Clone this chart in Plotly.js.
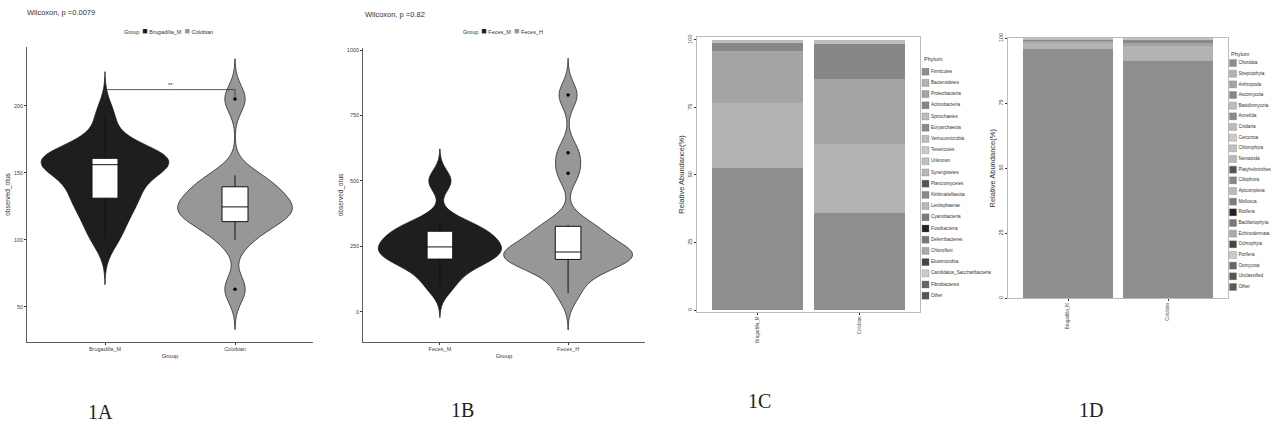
<!DOCTYPE html>
<html><head><meta charset="utf-8">
<script src="https://cdn.plot.ly/plotly-3.0.1.min.js"></script>
<style>html,body{margin:0;padding:0;background:#fff;overflow:hidden}#chart{width:1279px;height:432px}</style>
</head><body><div id="chart"></div>
<script>
// ---------- Panel 1A data ----------
const groupsA = ['Brugadilla_M', 'Colobian'];
const otusA_brugadilla = [100, 112, 122, 130, 134, 140, 150, 156, 157, 159, 160, 161, 162, 170, 192];
const otusA_colobian = [63, 100, 112, 115, 120, 124, 125, 130, 138, 141, 148, 205];
const titleA = 'Wilcoxon, p =0.0079';
const sigLabelA = '**';
const yTicksA = [50, 100, 150, 200];

// ---------- Panel 1B data ----------
const groupsB = ['Feces_M', 'Feces_H'];
const otusB_m = [100, 160, 195, 207, 225, 240, 255, 275, 300, 315, 340, 500];
const otusB_h = [71, 140, 180, 198, 205, 215, 224, 228, 245, 290, 312, 331, 529, 608, 828];
const titleB = 'Wilcoxon, p =0.82';
const yTicksB = [0, 250, 500, 750, 1000];

// ---------- Panel 1C data ----------
const samplesC = ['Brugadilla_M', 'Colobian'];
const phylaC = ['Firmicutes', 'Bacteroidetes', 'Proteobacteria', 'Actinobacteria', 'Spirochaetes',
  'Euryarchaeota', 'Verrucomicrobia', 'Tenericutes', 'Unknown', 'Synergistetes', 'Planctomycetes',
  'Kiritimatiellaeota', 'Lentisphaerae', 'Cyanobacteria', 'Fusobacteria', 'Deferribacteres',
  'Chloroflexi', 'Elusimicrobia', 'Candidatus_Saccharibacteria', 'Fibrobacteres', 'Other'];
const abundC_brugadilla = [52.5, 24.0, 19.4, 3.1, 0.2, 0.15, 0.12, 0.1, 0.08, 0.06, 0.05, 0.04, 0.04, 0.03, 0.03, 0.02, 0.02, 0.02, 0.01, 0.01, 0.02];
const abundC_colobian = [35.8, 25.7, 24.0, 13.0, 0.3, 0.25, 0.2, 0.15, 0.12, 0.1, 0.08, 0.06, 0.05, 0.04, 0.04, 0.03, 0.02, 0.02, 0.01, 0.01, 0.02];

// ---------- Panel 1D data ----------
const samplesD = ['Brugadilla_M', 'Colobian'];
const phylaD = ['Chordata', 'Streptophyta', 'Arthropoda', 'Ascomycota', 'Basidiomycota', 'Annelida',
  'Cnidaria', 'Cercozoa', 'Chlorophyta', 'Nematoda', 'Platyhelminthes', 'Ciliophora', 'Apicomplexa',
  'Mollusca', 'Rotifera', 'Bacillariophyta', 'Echinodermata', 'Ochrophyta', 'Porifera', 'Oomycota',
  'Unclassified', 'Other'];
const abundD_brugadilla = [95.9, 2.3, 0.6, 0.4, 0.15, 0.1, 0.1, 0.08, 0.06, 0.05, 0.04, 0.04, 0.03, 0.03, 0.02, 0.02, 0.02, 0.02, 0.01, 0.01, 0.01, 0.01];
const abundD_colobian = [91.4, 5.6, 1.3, 0.5, 0.25, 0.18, 0.14, 0.12, 0.1, 0.08, 0.06, 0.05, 0.04, 0.04, 0.03, 0.03, 0.02, 0.02, 0.01, 0.01, 0.01, 0.01];

const panelLabels = ['1A', '1B', '1C', '1D'];

// ---------- styles ----------
const darkFill = '#1e1e1e', greyFill = '#979797';
const palette = ['#8e8e8e', '#b3b3b3', '#a4a4a4', '#878787', '#bdbdbd', '#8a8a8a', '#bcbcbc', '#cacaca',
  '#c0c0c0', '#b8b8b8', '#555555', '#888888', '#bababa', '#7d7d7d', '#222222', '#777777', '#aaaaaa',
  '#444444', '#cccccc', '#666666', '#555555', '#5a5a5a'];
const FONT = 'Liberation Sans, Arial, sans-serif';

function quantile(s, p) { const h = (s.length - 1) * p, lo = Math.floor(h); const hi = Math.min(lo + 1, s.length - 1); return s[lo] + (h - lo) * (s[hi] - s[lo]); }
function nrd0(vals) {
  const s = [...vals].sort((a, b) => a - b), n = s.length;
  const mean = s.reduce((a, b) => a + b, 0) / n;
  const sd = Math.sqrt(s.reduce((a, b) => a + (b - mean) ** 2, 0) / (n - 1));
  const iqr = quantile(s, 0.75) - quantile(s, 0.25);
  return 0.9 * Math.min(sd, iqr / 1.34) * Math.pow(n, -0.2);
}
function violin(vals, cat, xa, ya, fill, width, ptColor) {
  const bw = nrd0(vals), mn = Math.min(...vals), mx = Math.max(...vals);
  return {type: 'violin', x: vals.map(() => cat), y: vals, xaxis: xa, yaxis: ya,
    bandwidth: bw, spanmode: 'manual', span: [mn - 3 * bw, mx + 3 * bw], width: width,
    fillcolor: fill, line: {color: '#151515', width: 0.7},
    box: {visible: true, width: 0.2 / width, fillcolor: '#ffffff', line: {color: '#111', width: 1}},
    meanline: {visible: false}, points: 'outliers', pointpos: 0, jitter: 0,
    marker: {color: ptColor, size: 3.5, line: {width: 0}}, hoverinfo: 'skip', showlegend: false};
}
function stackBars(names, a, b, cats, xa, ya) {
  return names.map((nm, i) => ({type: 'bar', name: nm, x: cats, y: [a[i], b[i]], xaxis: xa, yaxis: ya,
    marker: {color: palette[i], line: {width: 0}}, hoverinfo: 'skip', showlegend: false}));
}
function keyTrace(names, xa, ya) {
  return {type: 'scatter', mode: 'markers+text', x: names.map(() => 0), y: names.map((_, i) => i),
    text: names, textposition: 'middle right', textfont: {size: 4.6, color: '#333', family: FONT},
    marker: {symbol: 'square', size: 7, color: names.map((_, i) => palette[i]), line: {width: 0.3, color: '#666'}},
    xaxis: xa, yaxis: ya, hoverinfo: 'skip', showlegend: false, cliponaxis: false};
}

const traces = [
  violin(otusA_brugadilla, groupsA[0], 'x', 'y', darkFill, 0.98, darkFill),
  violin(otusA_colobian, groupsA[1], 'x', 'y', greyFill, 0.88, '#000'),
  violin(otusB_m, groupsB[0], 'x2', 'y2', darkFill, 0.96, darkFill),
  violin(otusB_h, groupsB[1], 'x2', 'y2', greyFill, 1.0, '#000'),
  ...stackBars(phylaC, abundC_brugadilla, abundC_colobian, samplesC, 'x3', 'y3'),
  ...stackBars(phylaD, abundD_brugadilla, abundD_colobian, samplesD, 'x4', 'y4'),
  keyTrace(phylaC, 'x5', 'y5'),
  keyTrace(phylaD, 'x6', 'y6')
];

const W = 1279, H = 432;
const px = v => v / W, py = v => 1 - v / H;

const tickF = {size: 5.5, color: '#444', family: FONT};
function catAxis(dom, cats, title, extra) {
  return Object.assign({domain: dom, type: 'category', categoryarray: cats, range: [-0.6, 1.6],
    showline: true, linecolor: '#333', linewidth: 0.8, ticks: 'outside', ticklen: 2, tickcolor: '#333',
    tickfont: tickF, showgrid: false, zeroline: false, fixedrange: true,
    title: {text: title, font: {size: 6, color: '#333', family: FONT}, standoff: 2}}, extra || {});
}
function valAxis(dom, range, tv, title, extra) {
  return Object.assign({domain: dom, range: range, tickvals: tv, showline: true, linecolor: '#333', linewidth: 0.8,
    ticks: 'outside', ticklen: 2, tickcolor: '#333', tickfont: tickF, showgrid: false, zeroline: false,
    title: {text: title, font: {size: 6.5, color: '#333', family: FONT}, standoff: 2}}, extra || {});
}

// significance bracket derived from panel 1A data
const allA = otusA_brugadilla.concat(otusA_colobian);
const sigY = Math.max(...allA) + 7;
const tip = 0.03 * (243.8 - 23.7);

function legendText(cats, fills) {
  return 'Group  ' + cats.map((c, i) => '<span style="color:' + fills[i] + ';font-size:9px">■</span> ' + c).join('  ');
}

const layout = {
  width: W, height: H, margin: {l: 0, r: 0, t: 0, b: 0}, paper_bgcolor: '#fff', plot_bgcolor: 'rgba(0,0,0,0)',
  showlegend: false, violinmode: 'overlay', barmode: 'stack', bargap: 0.1,
  font: {family: FONT, color: '#333'},
  xaxis: catAxis([px(27), px(313)], groupsA, 'Group', {anchor: 'y'}),
  yaxis: valAxis([py(342), py(47)], [23.7, 243.8], yTicksA, 'observed_otus', {anchor: 'x'}),
  xaxis2: catAxis([px(363), px(645)], groupsB, 'Group', {anchor: 'y2'}),
  yaxis2: valAxis([py(342), py(48)], [-116, 1008], yTicksB, 'observed_otus', {anchor: 'x2'}),
  xaxis3: catAxis([px(697), px(920)], samplesC, '', {anchor: 'y3', tickangle: -90, tickfont: {size: 4.5, color: '#555', family: FONT}, linecolor: '#aaa', mirror: true}),
  yaxis3: valAxis([py(312), py(37)], [-0.74, 101.1], [0, 25, 50, 75, 100], 'Relative Abundance(%)', {anchor: 'x3', tickangle: -90, linecolor: '#aaa', mirror: true, title: {text: 'Relative Abundance(%)', font: {size: 7.5, color: '#333', family: FONT}, standoff: 1}}),
  xaxis4: catAxis([px(1008), px(1228)], samplesD, '', {anchor: 'y4', tickangle: -90, tickfont: {size: 4.5, color: '#555', family: FONT}, linecolor: '#aaa', mirror: true}),
  yaxis4: valAxis([py(298.3), py(38.3)], [0, 100], [0, 25, 50, 75, 100], 'Relative Abundance(%)', {anchor: 'x4', tickangle: -90, linecolor: '#aaa', mirror: true, title: {text: 'Relative Abundance(%)', font: {size: 7.5, color: '#333', family: FONT}, standoff: 1}}),
  xaxis5: {domain: [px(920), px(995)], range: [-0.55, 6.95], visible: false, fixedrange: true, anchor: 'y5'},
  yaxis5: {domain: [py(301.3), py(66.1)], range: [20.5, -0.5], visible: false, fixedrange: true, anchor: 'x5'},
  xaxis6: {domain: [px(1227), px(1279)], range: [-0.6, 4.6], visible: false, fixedrange: true, anchor: 'y6'},
  yaxis6: {domain: [py(292.3), py(57.7)], range: [21.5, -0.5], visible: false, fixedrange: true, anchor: 'x6'},
  shapes: [
    {type: 'line', xref: 'x', yref: 'y', x0: 0, x1: 1, y0: sigY, y1: sigY, line: {color: '#333', width: 0.8}},
    {type: 'line', xref: 'x', yref: 'y', x0: 0, x1: 0, y0: sigY, y1: sigY - tip, line: {color: '#333', width: 0.8}},
    {type: 'line', xref: 'x', yref: 'y', x0: 1, x1: 1, y0: sigY, y1: sigY - tip, line: {color: '#333', width: 0.8}}
  ],
  annotations: [
    {xref: 'x', yref: 'y', x: 0.5, y: sigY, text: sigLabelA, showarrow: false, yanchor: 'bottom', font: {size: 6, color: '#333'}},
    {xref: 'paper', yref: 'paper', x: px(25), y: py(13), text: titleA, showarrow: false, xanchor: 'left', yanchor: 'middle', font: {size: 7.5, color: '#333'}},
    {xref: 'paper', yref: 'paper', x: px(363), y: py(14), text: titleB, showarrow: false, xanchor: 'left', yanchor: 'middle', font: {size: 7.5, color: '#333'}},
    {xref: 'paper', yref: 'paper', x: px(168), y: py(31), text: legendText(groupsA, [darkFill, greyFill]), showarrow: false, xanchor: 'center', yanchor: 'middle', font: {size: 5.5, color: '#333'}},
    {xref: 'paper', yref: 'paper', x: px(503), y: py(31), text: legendText(groupsB, [darkFill, greyFill]), showarrow: false, xanchor: 'center', yanchor: 'middle', font: {size: 5.5, color: '#333'}},
    {xref: 'paper', yref: 'paper', x: px(922), y: py(59), text: 'Phylum', showarrow: false, xanchor: 'left', yanchor: 'middle', font: {size: 5.5, color: '#333'}},
    {xref: 'paper', yref: 'paper', x: px(1229), y: py(54), text: 'Phylum', showarrow: false, xanchor: 'left', yanchor: 'middle', font: {size: 5.5, color: '#333'}},
    ...panelLabels.map((t, i) => ({xref: 'paper', yref: 'paper', x: px([100, 462, 759, 1091][i]), y: py([412, 410, 401, 410][i]),
      text: t, showarrow: false, xanchor: 'center', yanchor: 'middle', font: {size: 20, color: '#222', family: 'Liberation Serif, serif'}}))
  ]
};

Plotly.newPlot('chart', traces, layout, {staticPlot: true, displayModeBar: false});
</script>
</body></html>
